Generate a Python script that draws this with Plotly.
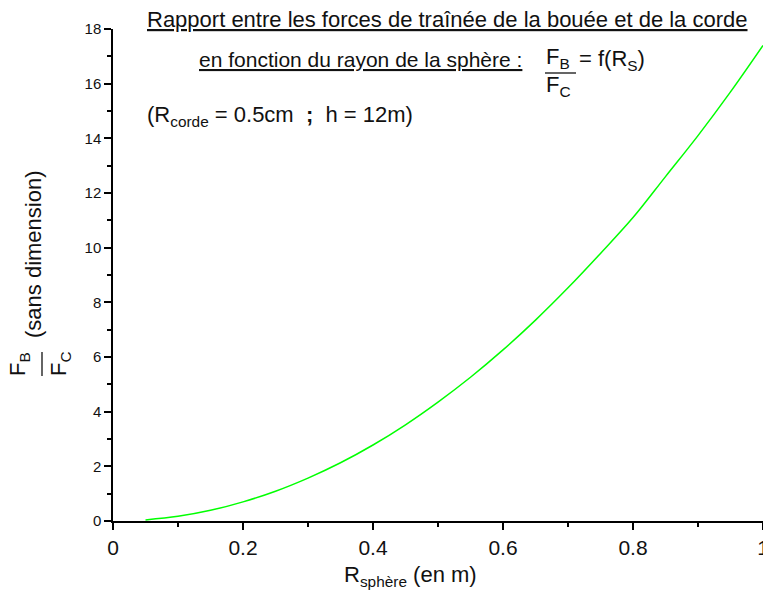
import plotly.graph_objects as go

# Rayon de la sphère (m) et rapport des forces de traînée F_B / F_C
r_sphere = [0.05, 0.10, 0.15, 0.20, 0.25, 0.30, 0.35, 0.40, 0.45, 0.50,
            0.55, 0.60, 0.65, 0.70, 0.75, 0.80, 0.85, 0.90, 0.95, 1.00]
rapport = [0.04, 0.17, 0.39, 0.70, 1.09, 1.57, 2.13, 2.78, 3.52, 4.35,
           5.26, 6.26, 7.35, 8.53, 9.79, 11.1, 12.6, 14.1, 15.7, 17.4]

x_ticks = [0, 0.2, 0.4, 0.6, 0.8, 1]
x_tick_labels = ["0", "0.2", "0.4", "0.6", "0.8", "1"]
y_ticks = [0, 2, 4, 6, 8, 10, 12, 14, 16, 18]

W, H = 763, 591
ML, MR, MT, MB = 113, 0, 29, 70
PW, PH = W - ML - MR, H - MT - MB

FONT = "Liberation Sans, Arial, sans-serif"
INK = "#111111"
TS = 22  # taille des textes de titre


def px(x):
    return (x - ML) / PW


def py(y):
    return (H - MB - y) / PH


fig = go.Figure()
fig.add_trace(go.Scatter(
    x=r_sphere, y=rapport, mode="lines",
    line=dict(color="#00ff00", width=1.5, shape="spline"),
    showlegend=False, hoverinfo="skip",
))

annotations = []


def label(text, x, y, size, xanchor="left", yanchor="middle", angle=0):
    annotations.append(dict(
        text=text, x=px(x), y=py(y), xref="paper", yref="paper",
        xanchor=xanchor, yanchor=yanchor, showarrow=False, textangle=angle,
        font=dict(family=FONT, size=size, color=INK),
    ))


shapes = []


def bar(x0, y0, x1, y1):
    shapes.append(dict(
        type="line", xref="paper", yref="paper",
        x0=px(x0), y0=py(y0), x1=px(x1), y1=py(y1),
        line=dict(color=INK, width=1.3),
    ))


# Titre
label("<u>Rapport entre les forces de traînée de la bouée et de la corde</u>",
      145, 19, TS)
label("<u>en fonction du rayon de la sphère :</u>", 197, 60, 21)
label("F<sub>B</sub>", 558, 58, TS, xanchor="center")
bar(545, 73, 576, 73)
label("F<sub>C</sub>", 558, 86, TS, xanchor="center")
label("= f(R<sub>S</sub>)", 577, 60, TS)
label("(R<sub>corde</sub> = 0.5cm  <b>;</b>  h = 12m)", 145, 116, TS)

# Titre de l'axe des ordonnées
label("(sans dimension)", 34, 254, TS, xanchor="center", angle=-90)
label("F<sub>B</sub>", 19, 364, TS, xanchor="center", angle=-90)
bar(42, 352, 42, 376)
label("F<sub>C</sub>", 60, 364, TS, xanchor="center", angle=-90)

# Titre de l'axe des abscisses
label("R<sub>sphère</sub> (en m)", 342, 576, TS)

fig.update_layout(
    width=W, height=H,
    margin=dict(l=ML, r=MR, t=MT, b=MB, pad=0),
    paper_bgcolor="white", plot_bgcolor="white",
    font=dict(family=FONT, color=INK),
    annotations=annotations, shapes=shapes,
    xaxis=dict(
        range=[0, 1], tickvals=x_ticks, ticktext=x_tick_labels,
        showgrid=False, zeroline=False, automargin=False,
        ticklabeloverflow="allow",
        showline=True, linecolor="black", linewidth=1.5,
        ticks="outside", ticklen=7, tickwidth=1.5, tickcolor="black",
        tickfont=dict(family=FONT, size=21, color=INK),
        minor=dict(dtick=0.1, tick0=0, ticks="outside", ticklen=4,
                   tickwidth=1.5, tickcolor="black", showgrid=False),
    ),
    yaxis=dict(
        range=[0, 18], tickvals=y_ticks,
        showgrid=False, zeroline=False, automargin=False,
        showline=True, linecolor="black", linewidth=1.5,
        ticks="outside", ticklen=7, tickwidth=1.5, tickcolor="black",
        tickfont=dict(family=FONT, size=15, color=INK),
        minor=dict(dtick=1, tick0=0, ticks="outside", ticklen=4,
                   tickwidth=1.5, tickcolor="black", showgrid=False),
    ),
)

fig.write_html("out.html")
